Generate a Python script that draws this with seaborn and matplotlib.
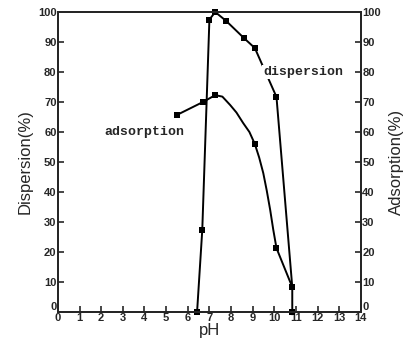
import matplotlib
matplotlib.use("Agg")
import matplotlib.pyplot as plt
import matplotlib.transforms as mtrans
import seaborn as sns
import pandas as pd

sns.set_style("ticks")
plt.rcParams["font.family"] = ["Liberation Sans", "DejaVu Sans"]

# dispersion (%) vs pH, measured points
disp_ph = [6.43, 6.67, 7.0, 7.27, 7.78, 8.6, 9.1, 10.1, 10.83, 10.83]
disp_val = [0, 27.3, 97.5, 100, 97, 91.3, 88, 71.7, 8.3, 0]

# adsorption (%) vs pH, measured points
ads_ph = [5.5, 6.7, 7.27, 9.1, 10.1, 10.83]
ads_val = [65.7, 70, 72.3, 56, 21.3, 8.3]

# adsorption curve
ads_curve_ph = [5.5, 6.7, 7.27, 7.6, 7.96, 8.25, 8.56, 8.85, 9.1, 9.3, 9.49,
                9.65, 9.81, 9.95, 10.1, 10.83]
ads_curve_val = [65.7, 70, 72.3, 71.8, 69, 66.5, 63, 60, 56, 51.5, 46.3,
                 40.5, 34, 27.5, 21.3, 8.3]

ph_ticks = list(range(0, 15))
pct_ticks = list(range(0, 101, 10))

disp = pd.DataFrame({"pH": disp_ph, "val": disp_val})
ads = pd.DataFrame({"pH": ads_ph, "val": ads_val})
ads_curve = pd.DataFrame({"pH": ads_curve_ph, "val": ads_curve_val})

fig = plt.figure(figsize=(4.11, 3.44), dpi=100)
ax = fig.add_axes([0.141, 0.093, 0.737, 0.872])

sns.lineplot(data=disp, x="pH", y="val", sort=False, estimator=None,
             color="black", lw=1.4, marker="s", markersize=4,
             markeredgewidth=0, ax=ax, clip_on=False)
sns.lineplot(data=ads_curve, x="pH", y="val", sort=False, estimator=None,
             color="black", lw=1.4, ax=ax, clip_on=False)
sns.scatterplot(data=ads, x="pH", y="val", color="black", marker="s", s=18,
                linewidth=0, ax=ax, clip_on=False, zorder=5)

ax.set_xlim(0, 14)
ax.set_ylim(0, 100)
ax.set_xticks(ph_ticks)
ax.set_yticks(pct_ticks)
for s in ax.spines.values():
    s.set_linewidth(1.4)
ax.tick_params(direction="in", length=4, width=1.2, labelsize=8, pad=1)
for lab in ax.get_xticklabels() + ax.get_yticklabels():
    lab.set_fontweight("bold")
ax.set_xlabel("pH", fontsize=12, labelpad=0)
ax.set_ylabel("Dispersion(%)", fontsize=12, labelpad=4)

ax2 = ax.twinx()
ax2.set_ylim(0, 100)
ax2.set_yticks(pct_ticks)
ax2.tick_params(direction="in", length=4, width=1.2, labelsize=8, pad=1)
for lab in ax2.get_yticklabels():
    lab.set_fontweight("bold")
ax2.set_ylabel("Adsorption(%)", fontsize=12, labelpad=6)
for s in ax2.spines.values():
    s.set_linewidth(1.4)

# lift the "0" labels on both y axes a little so they clear the pH labels
lift = mtrans.ScaledTranslation(0, 4 / 72, fig.dpi_scale_trans)
for lab in (ax.get_yticklabels()[0], ax2.get_yticklabels()[0]):
    lab.set_transform(lab.get_transform() + lift)

ax.text(4.0, 60, "adsorption", family="Liberation Mono", fontweight="bold",
        fontsize=9.5, ha="center", va="center")
ax.text(11.35, 80, "dispersion", family="Liberation Mono", fontweight="bold",
        fontsize=9.5, ha="center", va="center",
        bbox=dict(facecolor="white", edgecolor="none", pad=1))

fig.savefig("out.png", dpi=100)
